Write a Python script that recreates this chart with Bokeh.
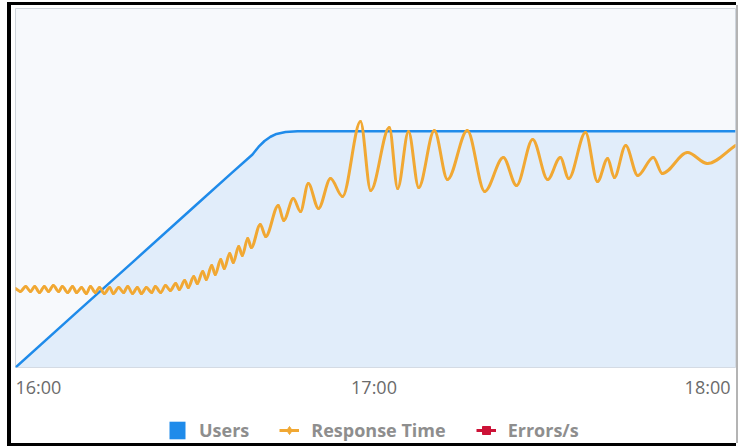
from bokeh.plotting import figure
from bokeh.layouts import column
from bokeh.models import Range1d, Legend, LegendItem
from bokeh.embed import file_html
from bokeh.resources import INLINE
from bokeh.core.properties import value

NAN = float("nan")

# ---------------- data (minutes after 16:00) ----------------
users_t = [0, 10, 20, 30, 36, 39.5, 40.5, 41.5, 42.5, 43.5, 45, 47, 60, 90, 120]
users_v = [0, 22.9, 45.7, 68.6, 82.3, 90.2, 93.4, 95.9, 97.7, 98.9, 99.7, 100, 100, 100, 100]

rt_t = [0.0, 0.8, 1.7, 2.5, 3.2, 4.0, 4.8, 5.5, 6.3, 7.2, 7.8, 8.7, 9.5, 10.2, 11.0,
        11.8, 12.5, 13.3, 14.0, 14.8, 15.7, 16.3, 17.2, 18.0, 18.7, 19.5, 20.3, 21.0,
        21.8, 22.7, 23.3, 24.2, 25.0, 25.8, 26.7, 27.3, 28.2, 28.8, 29.7, 30.3, 31.2,
        31.8, 32.7, 33.3, 34.2, 34.8, 35.7, 36.3, 37.2, 37.8, 38.7, 39.3, 40.8, 41.7,
        43.8, 44.7, 46.3, 47.5, 48.8, 50.5, 52.5, 54.5, 57.5, 59.2, 62.3, 63.7, 65.5,
        67.2, 69.8, 72.0, 75.3, 78.2, 81.3, 83.5, 86.2, 88.7, 90.8, 92.2, 95.0, 97.0,
        98.7, 99.8, 101.7, 103.7, 106.3, 107.8, 112.0, 115.3, 120.0]
rt_v = [158, 152, 162, 152, 162, 150, 162, 152, 164, 152, 162, 150, 162, 150, 160,
        148, 162, 150, 160, 148, 160, 148, 160, 150, 162, 148, 160, 148,
        160, 150, 162, 150, 164, 154, 168, 156, 174, 160, 182, 168, 192,
        176, 204, 186, 216, 198, 228, 210, 242, 224, 258, 240, 286, 262,
        324, 294, 338, 312, 368, 318, 378, 342, 492, 354, 480, 358, 472,
        360, 474, 376, 474, 352, 420, 364, 456, 376, 420, 378, 470, 372,
        418, 380, 444, 384, 420, 388, 430, 408, 444]

errors_t = []
errors_v = []

tick_minutes = [0, 60, 120]
tick_labels = ["16:00", "17:00", "18:00"]

# ---------------- styles ----------------
BLUE = "#1f8bea"
AREA = "#e1edfa"
ORANGE = "#f1a833"
RED = "#cc1237"
FONT = "Open Sans"


def smooth_segments(xs, ys):
    """Monotone cubic (Fritsch-Carlson) -> bezier control points."""
    n = len(xs)
    h = [xs[i + 1] - xs[i] for i in range(n - 1)]
    d = [(ys[i + 1] - ys[i]) / h[i] for i in range(n - 1)]
    m = [0.0] * n
    m[0] = d[0]
    m[-1] = d[-1]
    for i in range(1, n - 1):
        if d[i - 1] * d[i] <= 0:
            m[i] = 0.0
        else:
            w1 = 2 * h[i] + h[i - 1]
            w2 = h[i] + 2 * h[i - 1]
            m[i] = (w1 + w2) / (w1 / d[i - 1] + w2 / d[i])
    seg = dict(x0=[], y0=[], x1=[], y1=[], cx0=[], cy0=[], cx1=[], cy1=[])
    for i in range(n - 1):
        seg["x0"].append(xs[i]); seg["y0"].append(ys[i])
        seg["x1"].append(xs[i + 1]); seg["y1"].append(ys[i + 1])
        seg["cx0"].append(xs[i] + h[i] / 3); seg["cy0"].append(ys[i] + m[i] * h[i] / 3)
        seg["cx1"].append(xs[i + 1] - h[i] / 3); seg["cy1"].append(ys[i + 1] - m[i + 1] * h[i] / 3)
    return seg


# ---------------- main plot area ----------------
p = figure(width=725, height=363,
           x_range=Range1d(0, 120), y_range=Range1d(0, 152),
           x_axis_location=None, y_axis_location=None,
           output_backend="svg", toolbar_location=None,
           min_border_left=4, min_border_right=1, min_border_top=3, min_border_bottom=1,
           background_fill_color="#f7f9fc", border_fill_color="white",
           outline_line_color="#cfd5dc", outline_line_width=1)
p.extra_y_ranges = {"rt": Range1d(0, 718)}
p.xgrid.visible = False
p.ygrid.visible = False
p.styles = {"box-shadow": "-4px 0 0 0 #000, 0 -3px 0 0 #000, -4px -3px 0 0 #000, "
                          "2px 0 0 0 #b4b4b4"}

p.varea(x=users_t, y1=[0] * len(users_t), y2=users_v, fill_color=AREA)
p.line(users_t, users_v, line_color=BLUE, line_width=2.5, line_join="round")

seg = smooth_segments(rt_t, rt_v)
p.bezier(x0=seg["x0"], y0=seg["y0"], x1=seg["x1"], y1=seg["y1"],
         cx0=seg["cx0"], cy0=seg["cy0"], cx1=seg["cx1"], cy1=seg["cy1"],
         line_color=ORANGE, line_width=3, line_cap="round", y_range_name="rt")

p.line(errors_t, errors_v, line_color=RED, line_width=2.5, y_range_name="rt")

# ---------------- bottom strip: time labels + legend ----------------
b = figure(width=725, height=75,
           x_range=Range1d(-4 / 6, 120 + 1 / 6), y_range=Range1d(0, 75),
           x_axis_location=None, y_axis_location=None,
           output_backend="svg", toolbar_location=None,
           min_border=0, min_border_left=0, min_border_right=0,
           min_border_top=0, min_border_bottom=0,
           background_fill_color="white", border_fill_color="white",
           outline_line_color=None)
b.xgrid.visible = False
b.ygrid.visible = False
b.styles = {"box-shadow": "-4px 0 0 0 #000, 0 3px 0 0 #000, -4px 3px 0 0 #000, "
                          "2px 0 0 0 #b4b4b4"}

b.text(x=tick_minutes, y=[57] * len(tick_labels), text=tick_labels,
       text_align=["left", "center", "right"], x_offset=[-4, -3, -4],
       text_baseline="middle", text_font=value(FONT), text_font_size="18px",
       text_color="#6b6b6b")

users_leg = b.quad(left=[NAN], right=[NAN], top=[NAN], bottom=[NAN],
                   fill_color=BLUE, line_color=None)
rt_leg_line = b.line([NAN], [NAN], line_color=ORANGE, line_width=3)
rt_leg_mark = b.scatter([NAN], [NAN], marker="diamond", size=9,
                        fill_color=ORANGE, line_color=ORANGE)
err_leg_line = b.line([NAN], [NAN], line_color=RED, line_width=3)
err_leg_mark = b.scatter([NAN], [NAN], marker="square", size=8,
                         fill_color=RED, line_color=RED)

legend = Legend(items=[
    LegendItem(label="Users", renderers=[users_leg]),
    LegendItem(label="Response Time", renderers=[rt_leg_line, rt_leg_mark]),
    LegendItem(label="Errors/s", renderers=[err_leg_line, err_leg_mark]),
], orientation="horizontal", location=(152, 1), padding=0, margin=0,
    border_line_color=None, background_fill_alpha=0,
    glyph_width=20, glyph_height=22, label_standoff=12, spacing=30,
    label_text_font=FONT, label_text_font_size="18px", label_text_font_style="bold",
    label_text_color="#8e8e8e")
b.add_layout(legend, "center")

layout = column(p, b, spacing=0, styles={"margin-left": "11px", "margin-top": "5px"})

open("out.html", "w").write(file_html(layout, INLINE))
